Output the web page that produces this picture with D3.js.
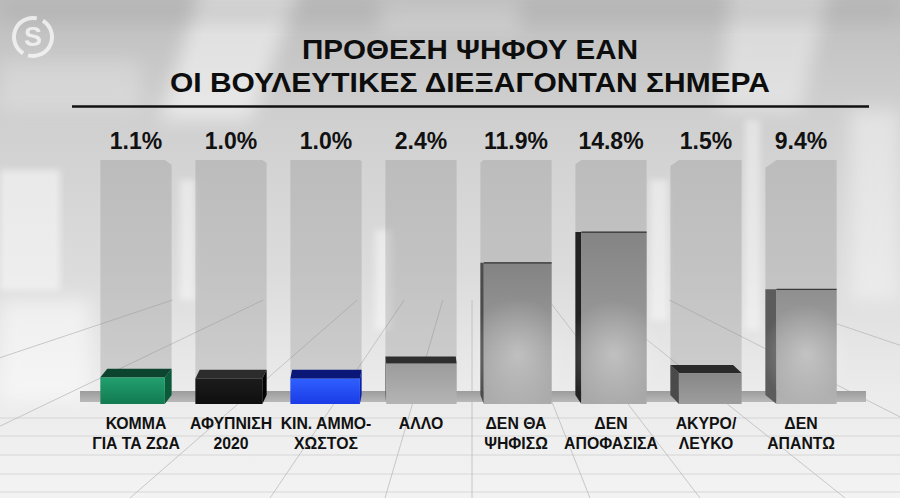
<!DOCTYPE html>
<html><head><meta charset="utf-8">
<script src="https://cdn.jsdelivr.net/npm/d3@7"></script>
<style>html,body{margin:0;padding:0;background:#ddd;overflow:hidden}svg{display:block}</style>
</head><body><svg id="c" width="900" height="498"></svg>
<script>
// ---------- data ----------
const titleLines = ["ΠΡΟΘΕΣΗ ΨΗΦΟΥ ΕΑΝ", "ΟΙ ΒΟΥΛΕΥΤΙΚΕΣ ΔΙΕΞΑΓΟΝΤΑΝ ΣΗΜΕΡΑ"];
const categories = ["ΚΟΜΜΑ ΓΙΑ ΤΑ ΖΩΑ", "ΑΦΥΠΝΙΣΗ 2020", "ΚΙΝ. ΑΜΜΟΧΩΣΤΟΣ", "ΑΛΛΟ", "ΔΕΝ ΘΑ ΨΗΦΙΣΩ", "ΔΕΝ ΑΠΟΦΑΣΙΣΑ", "ΑΚΥΡΟ/ΛΕΥΚΟ", "ΔΕΝ ΑΠΑΝΤΩ"];
const labelLines = [["ΚΟΜΜΑ","ΓΙΑ ΤΑ ΖΩΑ"],["ΑΦΥΠΝΙΣΗ","2020"],["ΚΙΝ. ΑΜΜΟ-","ΧΩΣΤΟΣ"],["ΑΛΛΟ"],["ΔΕΝ ΘΑ","ΨΗΦΙΣΩ"],["ΔΕΝ","ΑΠΟΦΑΣΙΣΑ"],["ΑΚΥΡΟ/","ΛΕΥΚΟ"],["ΔΕΝ","ΑΠΑΝΤΩ"]];
const values = [1.1, 1.0, 1.0, 2.4, 11.9, 14.8, 1.5, 9.4];
const valueLabels = ["1.1%", "1.0%", "1.0%", "2.4%", "11.9%", "14.8%", "1.5%", "9.4%"];
const scaleMax = 21.6;

// ---------- styles ----------
const palette = [
  {front:["#23a06f","#117a50"], side:"#0a5a3a", cap:"#0c4430"},
  {front:["#1c1c1c","#0e0e0e"], side:"#030303", cap:"#2c2c2c"},
  {front:["#3060ff","#1a3be6"], side:"#0c22a8", cap:"#0a1778"},
  {front:["#9c9c9c","#b4b4b4"], side:"#5a5a5a", cap:"#2e2e2e"},
  {front:["#838383","#acacac"], side:"#4c4c4c", cap:"#2e2e2e"},
  {front:["#848484","#a9a9a9"], side:"#222222", cap:"#2e2e2e"},
  {front:["#878787","#9d9d9d"], side:"#4a4a4a", cap:"#2a2a2a"},
  {front:["#8f8f8f","#b2b2b2"], side:"#5c5c5c", cap:"#3a3a3a"}
];
const FONT = "'Liberation Sans', Arial, sans-serif";
const W = 900, H = 498;

const svg = d3.select("#c");
const defs = svg.append("defs");

// background
const bg = defs.append("linearGradient").attr("id","bg").attr("x1",0).attr("y1",0).attr("x2",0).attr("y2",1);
[[0,"#bdbdbd"],[0.2,"#cecece"],[0.55,"#dcdcdc"],[0.78,"#ebebeb"],[1,"#f3f3f3"]]
  .forEach(([o,c]) => bg.append("stop").attr("offset",o).attr("stop-color",c));
svg.append("rect").attr("width",W).attr("height",H).attr("fill","url(#bg)");

const blur = defs.append("filter").attr("id","blur").attr("x","-50%").attr("y","-50%").attr("width","200%").attr("height","200%");
blur.append("feGaussianBlur").attr("stdDeviation",9);
const blur2 = defs.append("filter").attr("id","blur2").attr("x","-50%").attr("y","-50%").attr("width","200%").attr("height","200%");
blur2.append("feGaussianBlur").attr("stdDeviation",3);

const glow = svg.append("g");
[
  {p:"M200,-10 L300,-10 L250,120 L160,120 Z", o:0.5, f:"blur"},
  {p:"M730,-10 L830,-10 L800,110 L720,110 Z", o:0.4, f:"blur"},
  {p:"M0,170 L60,170 L60,290 L0,290 Z", o:0.5, f:"blur2"},
  {p:"M0,300 L90,300 L90,400 L0,400 Z", o:0.5, f:"blur"},
  {p:"M850,110 L900,110 L900,300 L850,300 Z", o:0.4, f:"blur"},
  {p:"M380,0 L520,0 L520,30 L380,30 Z", o:0.3, f:"blur"},
  {p:"M180,180 L195,180 L195,300 L180,300 Z", o:0.45, f:"blur2"},
  {p:"M375,230 L392,230 L392,330 L375,330 Z", o:0.45, f:"blur2"},
  {p:"M650,180 L668,180 L668,320 L650,320 Z", o:0.45, f:"blur2"},
  {p:"M745,120 L760,120 L760,330 L745,330 Z", o:0.4, f:"blur2"},
  {p:"M0,60 L140,60 L140,110 L0,110 Z", o:0.2, f:"blur"}
].forEach(b => glow.append("path").attr("d",b.p).attr("fill","#fff").attr("opacity",b.o).attr("filter",`url(#${b.f})`));
svg.append("rect").attr("width",W).attr("height",22).attr("fill","#9a9a9a").attr("opacity",0.25).attr("filter","url(#blur)");

// floor lines (perspective)
const floor = svg.append("g").attr("stroke","#b5b5b5").attr("stroke-width",1).attr("fill","none");
const vp = [472, 200];
[-420,-150,130,270,385,472,590,700,845,1060,1350].forEach(bx => {
  const t0 = (300 - vp[1]) / (H - vp[1]);
  floor.append("line")
    .attr("x1", vp[0] + (bx - vp[0]) * t0).attr("y1", 300)
    .attr("x2", bx).attr("y2", H).attr("opacity",0.7);
});
[418,436,455,474,492].forEach(yy => floor.append("line").attr("x1",0).attr("x2",W).attr("y1",yy).attr("y2",yy).attr("opacity",0.45));

// logo (faint overlay)
const logo = svg.append("g").attr("opacity",0.7);
logo.append("path").attr("d", d3.arc()({innerRadius:17,outerRadius:21,startAngle:-2.6,endAngle:0.2}))
  .attr("transform","translate(33,37)").attr("fill","#fff");
logo.append("path").attr("d", d3.arc()({innerRadius:17,outerRadius:21,startAngle:0.55,endAngle:3.4}))
  .attr("transform","translate(33,37)").attr("fill","#fff");
logo.append("text").attr("x",33).attr("y",46).attr("text-anchor","middle")
  .attr("font-family",FONT).attr("font-weight","bold").attr("font-size",27).attr("fill","#fff").text("S");

// ---------- scales ----------
const x = d3.scaleBand().domain(categories).range([88.5, 848.5]).paddingInner(0.25).paddingOuter(0.125);
const y = d3.scaleLinear().domain([0, scaleMax]).range([389, 160]);
const bw = x.bandwidth();
const floorY = 404, colBottom = 393;

const geo = categories.map((c, i) => {
  const xc = x(c) + bw / 2;
  const dx = (390 - xc) * 0.027;
  const sw = Math.abs(dx);
  let x0, x1, xe;
  if (dx >= 0) { x0 = x(c); x1 = x(c) + bw - sw; xe = x1; }
  else { x0 = x(c) + sw; x1 = x(c) + bw; xe = x0; }
  const top = y(values[i]);
  const capH = Math.max(0, Math.min(10, (top - 300) * 0.11));
  return {c, i, xc, dx, sw, x0, x1, xe, top, capH};
});

// background columns
const cols = svg.append("g");
geo.forEach(g => {
  const t = y(scaleMax);
  const bx0 = x(g.c), bx1 = x(g.c) + bw;
  let pts;
  if (g.dx >= 0) pts = [[bx0,t],[g.xe,t],[bx1,t + g.sw*0.7],[bx1,colBottom],[bx0,colBottom]];
  else pts = [[bx0,t + g.sw*0.7],[g.xe,t],[bx1,t],[bx1,colBottom],[bx0,colBottom]];
  cols.append("path").attr("d", d3.line()(pts) + "Z").attr("fill","#7a7a7a").attr("opacity",0.26);
});

// base strip
const baseG = defs.append("linearGradient").attr("id","baseG").attr("x1",0).attr("y1",0).attr("x2",0).attr("y2",1);
baseG.append("stop").attr("offset",0).attr("stop-color","#9c9c9c");
baseG.append("stop").attr("offset",1).attr("stop-color","#b8b8b8");
svg.append("rect").attr("x",80).attr("y",391).attr("width",786).attr("height",11).attr("fill","url(#baseG)");

// bars
const glowGrad = defs.append("radialGradient").attr("id","barGlow").attr("cx",0.5).attr("cy",0.5).attr("r",0.5);
glowGrad.append("stop").attr("offset",0).attr("stop-color","#fff").attr("stop-opacity",0.35);
glowGrad.append("stop").attr("offset",1).attr("stop-color","#fff").attr("stop-opacity",0);

const bars = svg.append("g");
geo.forEach(g => {
  const p = palette[g.i];
  const gid = "fg" + g.i;
  const lg = defs.append("linearGradient").attr("id",gid).attr("x1",0).attr("y1",0).attr("x2",0).attr("y2",1);
  lg.append("stop").attr("offset",0).attr("stop-color",p.front[0]);
  lg.append("stop").attr("offset",1).attr("stop-color",p.front[1]);

  bars.append("path").attr("d", d3.line()([[g.xe,g.top],[g.xe+g.dx,g.top-g.capH],[g.xe+g.dx,floorY-9],[g.xe,floorY]]) + "Z")
    .attr("fill",p.side);
  bars.append("rect").attr("x",g.x0).attr("y",g.top).attr("width",g.x1-g.x0).attr("height",floorY-g.top)
    .attr("fill",`url(#${gid})`);
  if (g.i >= 3 && floorY - g.top > 60) {
    const r = (g.x1 - g.x0) * 0.75;
    bars.append("ellipse").attr("cx",(g.x0+g.x1)/2).attr("cy",floorY-50).attr("rx",r).attr("ry",r*1.1)
      .attr("fill","url(#barGlow)");
  }
  if (g.capH > 0.5) {
    bars.append("path").attr("d", d3.line()([[g.x0,g.top],[g.x1,g.top],[g.x1+g.dx,g.top-g.capH],[g.x0+g.dx,g.top-g.capH]]) + "Z")
      .attr("fill",p.cap);
  } else {
    bars.append("line").attr("x1",g.x0).attr("x2",g.x1).attr("y1",g.top).attr("y2",g.top)
      .attr("stroke",p.cap).attr("stroke-width",1.2);
  }
});

// value labels
svg.append("g").selectAll("text").data(geo).join("text")
  .attr("x", g => g.xc).attr("y", 149).attr("text-anchor","middle")
  .attr("font-family",FONT).attr("font-weight","bold").attr("font-size",23).attr("fill","#111")
  .text(g => valueLabels[g.i]);

// category labels
const catG = svg.append("g");
geo.forEach(g => {
  labelLines[g.i].forEach((ln, k) => {
    catG.append("text").attr("transform",`translate(${g.xc},${429 + k*19.5}) scale(0.93,1)`)
      .attr("text-anchor","middle").attr("font-family",FONT).attr("font-weight","bold")
      .attr("font-size",17).attr("fill","#111").text(ln);
  });
});

// title
const tpos = [{x:302, y:59, len:336}, {x:170, y:92, len:600}];
titleLines.forEach((t, k) => {
  svg.append("text").attr("x",tpos[k].x).attr("y",tpos[k].y)
    .attr("textLength",tpos[k].len).attr("lengthAdjust","spacingAndGlyphs")
    .attr("font-family",FONT).attr("font-weight","bold").attr("font-size",28.5).attr("fill","#0d0d0d").text(t);
});
svg.append("line").attr("x1",72).attr("x2",869).attr("y1",106.5).attr("y2",106.5).attr("stroke","#111").attr("stroke-width",2.5);
</script></body></html>
